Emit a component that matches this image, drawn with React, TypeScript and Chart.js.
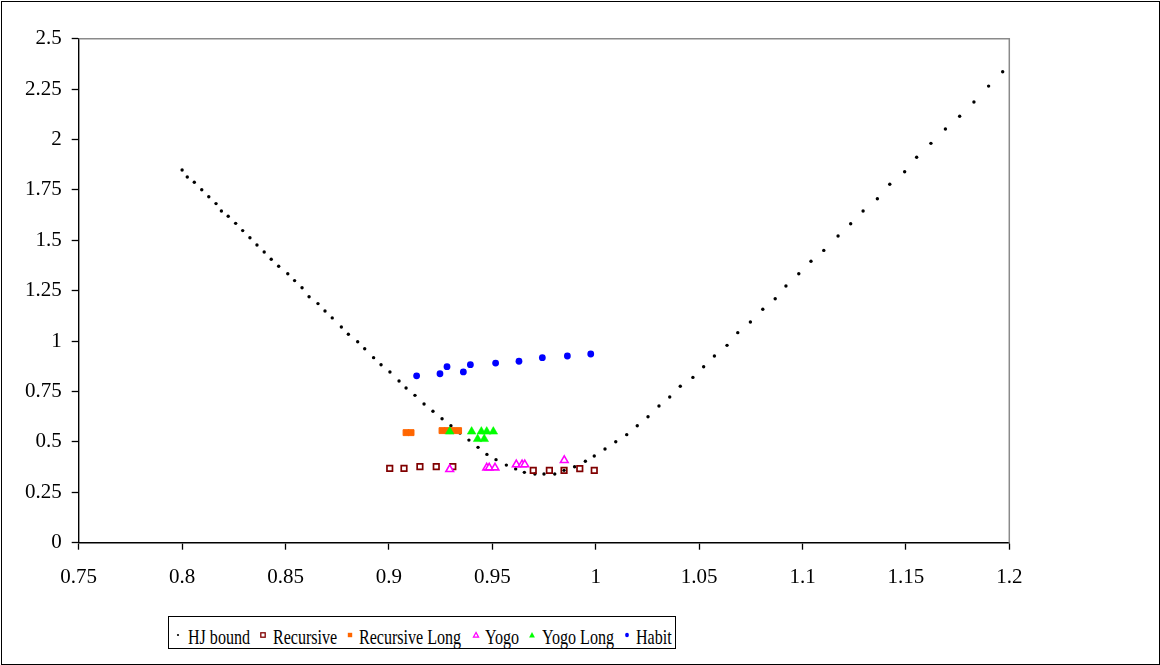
import React, { useEffect, useRef } from "react";
import { Chart, registerables } from "chart.js";

Chart.register(...registerables);

const xTickValues = [0.75, 0.8, 0.85, 0.9, 0.95, 1, 1.05, 1.1, 1.15, 1.2];
const xTickLabels = ["0.75", "0.8", "0.85", "0.9", "0.95", "1", "1.05", "1.1", "1.15", "1.2"];
const yTickValues = [0, 0.25, 0.5, 0.75, 1, 1.25, 1.5, 1.75, 2, 2.25, 2.5];
const yTickLabels = ["0", "0.25", "0.5", "0.75", "1", "1.25", "1.5", "1.75", "2", "2.25", "2.5"];

const seriesNames = ["HJ bound", "Recursive", "Recursive Long", "Yogo", "Yogo Long", "Habit"];

const hjX = [0.8, 0.8025, 0.8059, 0.8095, 0.8129, 0.8164, 0.819, 0.8223, 0.8259, 0.8293,
  0.8328, 0.8362, 0.8397, 0.8431, 0.8467, 0.8511, 0.8544, 0.858, 0.8614, 0.8657,
  0.8691, 0.8726, 0.877, 0.8804, 0.8849, 0.8883, 0.8926, 0.8962, 0.9005, 0.9049,
  0.9083, 0.9126, 0.917, 0.9213, 0.9257, 0.93, 0.9344, 0.9387, 0.9431, 0.9474,
  0.9518, 0.9568, 0.9613, 0.9655, 0.9706, 0.975, 0.9802, 0.9847, 0.9898, 0.995,
  0.9993, 1.0045, 1.0097, 1.015, 1.0201, 1.0253, 1.0306, 1.0358, 1.0409, 1.047,
  1.0522, 1.0574, 1.0635, 1.0687, 1.0748, 1.0808, 1.0868, 1.092, 1.0982, 1.1041,
  1.1103, 1.1172, 1.1233, 1.1293, 1.1362, 1.1422, 1.1494, 1.1552, 1.1621, 1.1691,
  1.176, 1.1829, 1.19, 1.1968];
const hjY = [1.849, 1.814, 1.788, 1.751, 1.716, 1.682, 1.645, 1.619, 1.584, 1.548,
  1.513, 1.477, 1.442, 1.406, 1.371, 1.334, 1.3, 1.265, 1.22, 1.186,
  1.149, 1.115, 1.07, 1.034, 0.997, 0.962, 0.918, 0.883, 0.847, 0.802,
  0.767, 0.731, 0.688, 0.652, 0.615, 0.58, 0.544, 0.509, 0.473, 0.438,
  0.412, 0.385, 0.366, 0.349, 0.341, 0.341, 0.341, 0.359, 0.377, 0.404,
  0.43, 0.465, 0.501, 0.536, 0.58, 0.625, 0.678, 0.723, 0.776, 0.82,
  0.873, 0.926, 0.979, 1.042, 1.095, 1.158, 1.21, 1.273, 1.334, 1.396,
  1.45, 1.521, 1.582, 1.645, 1.706, 1.778, 1.84, 1.912, 1.981, 2.052,
  2.115, 2.186, 2.265, 2.336];

const recursiveX = [0.9004, 0.9073, 0.915, 0.9229, 0.9309, 0.9698, 0.9776, 0.9847, 0.9923, 0.9993];
const recursiveY = [0.369, 0.369, 0.377, 0.377, 0.377, 0.359, 0.359, 0.359, 0.367, 0.359];

const recursiveLongX = [0.9083, 0.9107, 0.9257, 0.9283, 0.9308, 0.9337];
const recursiveLongY = [0.546, 0.546, 0.556, 0.556, 0.556, 0.556];

const yogoX = [0.9294, 0.9473, 0.9485, 0.9513, 0.9616, 0.9644, 0.9657, 0.9848];
const yogoY = [0.364, 0.372, 0.372, 0.372, 0.388, 0.388, 0.388, 0.409];

const yogoLongX = [0.9294, 0.94, 0.9429, 0.9447, 0.9461, 0.9473, 0.9505];
const yogoLongY = [0.551, 0.551, 0.514, 0.551, 0.514, 0.551, 0.551];

const habitX = [0.9134, 0.9247, 0.9281, 0.936, 0.9394, 0.9516, 0.9629, 0.9742, 0.9863, 0.9976];
const habitY = [0.828, 0.838, 0.873, 0.847, 0.883, 0.891, 0.9, 0.918, 0.926, 0.936];

const zip = (xs: number[], ys: number[]) => xs.map((x, i) => ({ x, y: ys[i] }));

const FONT = "'Liberation Serif', 'Times New Roman', serif";

const frameBorders = {
  id: "frameBorders",
  afterDraw(chart: any) {
    const { ctx, chartArea } = chart;
    ctx.save();
    ctx.strokeStyle = "#8a8a8a";
    ctx.lineWidth = 1.5;
    ctx.beginPath();
    ctx.moveTo(chartArea.left, chartArea.top);
    ctx.lineTo(chartArea.right, chartArea.top);
    ctx.lineTo(chartArea.right, chartArea.bottom);
    ctx.stroke();
    ctx.restore();
  },
};

function Marker({ kind }: { kind: string }) {
  const s = 10;
  let el: any = null;
  if (kind === "hj") el = <circle cx={5} cy={5} r={1.1} fill="#000" />;
  if (kind === "rec") el = <rect x={2.8} y={2.8} width={4.4} height={4.4} fill="#fff" stroke="#800000" strokeWidth={1.3} />;
  if (kind === "recl") el = <rect x={2.8} y={2.8} width={4.4} height={4.4} fill="#FF6600" />;
  if (kind === "yogo") el = <polygon points="5,2.4 7.6,7.2 2.4,7.2" fill="#fff" stroke="#FF00FF" strokeWidth={1.2} />;
  if (kind === "yogol") el = <polygon points="5,2 7.9,7.4 2.1,7.4" fill="#00FF00" />;
  if (kind === "habit") el = <ellipse cx={5} cy={5} rx={1.9} ry={2.2} fill="#0000FF" />;
  return (
    <svg width={s} height={s} style={{ position: "absolute", display: "block" }}>
      {el}
    </svg>
  );
}

const legendItems = [
  { kind: "hj", mx: 10.3, tx: 20.3 },
  { kind: "rec", mx: 95.3, tx: 105.3 },
  { kind: "recl", mx: 182, tx: 191.3 },
  { kind: "yogo", mx: 308, tx: 317 },
  { kind: "yogol", mx: 364.3, tx: 373.7 },
  { kind: "habit", mx: 458.7, tx: 468 },
];

export default function App() {
  const canvasRef = useRef<HTMLCanvasElement | null>(null);

  useEffect(() => {
    const canvas = canvasRef.current;
    if (!canvas) return;
    const common = { showLine: false };
    const chart = new Chart(canvas, {
      type: "scatter",
      data: {
        datasets: [
          {
            ...common,
            label: seriesNames[0],
            data: zip(hjX, hjY),
            pointStyle: "circle",
            pointRadius: 1.7,
            pointBackgroundColor: "#000",
            pointBorderColor: "#000",
            pointBorderWidth: 0,
            order: 6,
          },
          {
            ...common,
            label: seriesNames[1],
            data: zip(recursiveX, recursiveY),
            pointStyle: "rect",
            pointRadius: 3.9,
            pointBackgroundColor: "rgba(255,255,255,0)",
            pointBorderColor: "#800000",
            pointBorderWidth: 1.7,
            order: 5,
          },
          {
            ...common,
            label: seriesNames[2],
            data: zip(recursiveLongX, recursiveLongY),
            pointStyle: "rect",
            pointRadius: 4.2,
            pointBackgroundColor: "#FF6600",
            pointBorderColor: "#FF6600",
            pointBorderWidth: 1,
            order: 4,
          },
          {
            ...common,
            label: seriesNames[3],
            data: zip(yogoX, yogoY),
            pointStyle: "triangle",
            pointRadius: 4.4,
            pointBackgroundColor: "#fff",
            pointBorderColor: "#FF00FF",
            pointBorderWidth: 1.6,
            order: 3,
          },
          {
            ...common,
            label: seriesNames[4],
            data: zip(yogoLongX, yogoLongY),
            pointStyle: "triangle",
            pointRadius: 5,
            pointBackgroundColor: "#00FF00",
            pointBorderColor: "#00FF00",
            pointBorderWidth: 0.5,
            order: 2,
          },
          {
            ...common,
            label: seriesNames[5],
            data: zip(habitX, habitY),
            pointStyle: "circle",
            pointRadius: 3.4,
            pointBackgroundColor: "#0000FF",
            pointBorderColor: "#0000FF",
            pointBorderWidth: 0,
            order: 1,
          },
        ],
      },
      options: {
        responsive: false,
        animation: false,
        events: [],
        layout: { padding: { top: 38.7, right: 150.7, left: 0, bottom: 0 } },
        plugins: {
          legend: { display: false },
          tooltip: { enabled: false },
          title: { display: false },
        },
        scales: {
          x: {
            type: "linear",
            min: 0.75,
            max: 1.2,
            afterBuildTicks: (scale: any) => {
              scale.ticks = xTickValues.map((v) => ({ value: v }));
            },
            afterFit: (scale: any) => {
              scale.height = 665 - 542.7;
            },
            ticks: {
              autoSkip: false,
              maxRotation: 0,
              padding: 15,
              color: "#000",
              font: { family: FONT, size: 21 },
              callback: (_v: any, i: number) => xTickLabels[i],
            },
            grid: {
              drawOnChartArea: false,
              drawTicks: true,
              tickLength: 7,
              tickColor: "#000",
              tickWidth: 1.3,
            },
            border: { display: true, color: "#000", width: 1.6 },
          },
          y: {
            type: "linear",
            min: 0,
            max: 2.5,
            afterBuildTicks: (scale: any) => {
              scale.ticks = yTickValues.map((v) => ({ value: v }));
            },
            afterFit: (scale: any) => {
              scale.width = 78.7;
            },
            ticks: {
              autoSkip: false,
              padding: 10,
              color: "#000",
              font: { family: FONT, size: 21 },
              callback: (_v: any, i: number) => yTickLabels[i],
            },
            grid: {
              drawOnChartArea: false,
              drawTicks: true,
              tickLength: 7,
              tickColor: "#000",
              tickWidth: 1.3,
            },
            border: { display: true, color: "#000", width: 1.4 },
          },
        },
      },
      plugins: [frameBorders],
    } as any);
    return () => chart.destroy();
  }, []);

  return (
    <div style={{ position: "absolute", left: 0, top: 0, width: 1160, height: 665, background: "#fff", overflow: "hidden" }}>
      <canvas ref={canvasRef} width={1160} height={665} style={{ position: "absolute", left: 0, top: 0, width: 1160, height: 665 }} />
      <div
        style={{
          position: "absolute",
          left: 1,
          top: 0.5,
          width: 1159,
          height: 664,
          border: "1.5px solid #000",
          boxSizing: "border-box",
          pointerEvents: "none",
        }}
      />
      <div
        style={{
          position: "absolute",
          left: 168,
          top: 615.5,
          width: 508,
          height: 33,
          border: "1px solid #000",
          boxSizing: "border-box",
          background: "#fff",
          fontFamily: FONT,
          fontSize: 22,
          lineHeight: "22px",
          color: "#000",
        }}
      >
        {legendItems.map((it, i) => (
          <React.Fragment key={it.kind}>
            <div style={{ position: "absolute", left: it.mx - 5 - 1, top: 19.5 - 5 - 1, width: 10, height: 10 }}>
              <Marker kind={it.kind} />
            </div>
            <span
              style={{
                position: "absolute",
                left: it.tx - 1,
                top: 9,
                whiteSpace: "nowrap",
                transform: "scaleX(0.73)",
                transformOrigin: "0 0",
              }}
            >
              {seriesNames[i]}
            </span>
          </React.Fragment>
        ))}
      </div>
    </div>
  );
}
